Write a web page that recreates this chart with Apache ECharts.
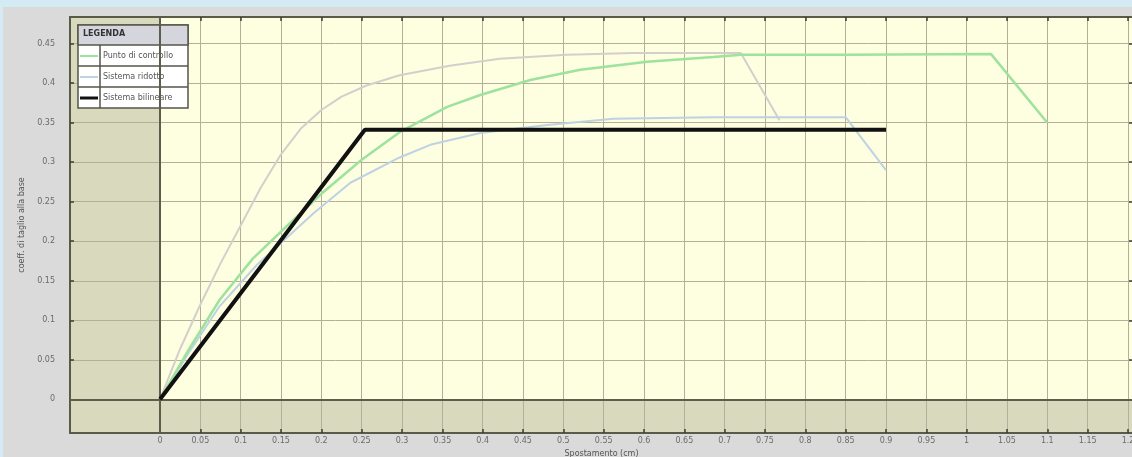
<!DOCTYPE html>
<html>
<head>
<meta charset="utf-8">
<script src="https://cdn.jsdelivr.net/npm/echarts@6/dist/echarts.min.js"></script>
<style>
html, body { margin: 0; padding: 0; background: #d4ebf3; }
#chart { position: absolute; left: 3px; top: 7px; width: 1129px; height: 450px; }
</style>
</head>
<body>
<div id="chart"></div>
<script>
// tick labels
var xTicks = [0, 0.05, 0.1, 0.15, 0.2, 0.25, 0.3, 0.35, 0.4, 0.45, 0.5, 0.55, 0.6,
    0.65, 0.7, 0.75, 0.8, 0.85, 0.9, 0.95, 1, 1.05, 1.1, 1.15, 1.2];
var yTicks = [0, 0.05, 0.1, 0.15, 0.2, 0.25, 0.3, 0.35, 0.4, 0.45];

// axis extents
var xMin = -0.1116, xMax = 1.2062;
var yMin = -0.0426, yMax = 0.4837;

// series values [spostamento, coeff]
var puntoControllo = [[0, 0], [0.035, 0.062], [0.074, 0.126], [0.115, 0.178], [0.157, 0.219],
    [0.2, 0.26], [0.25, 0.303], [0.297, 0.338], [0.356, 0.37], [0.397, 0.385], [0.459, 0.404],
    [0.521, 0.417], [0.604, 0.427], [0.686, 0.433], [0.72, 0.436], [0.85, 0.436],
    [1.03, 0.437], [1.1, 0.35]];
var sistemaRidotto = [[0, 0], [0.035, 0.058], [0.074, 0.118], [0.12, 0.17], [0.19, 0.235],
    [0.236, 0.274], [0.297, 0.306], [0.335, 0.322], [0.397, 0.337], [0.48, 0.347],
    [0.562, 0.355], [0.686, 0.357], [0.85, 0.357], [0.9, 0.29]];
var sistemaBilineare = [[0, 0], [0.254, 0.341], [0.9, 0.341]];
var curvaGrigia = [[0, 0], [0.025, 0.064], [0.05, 0.12], [0.075, 0.172], [0.1, 0.22],
    [0.125, 0.268], [0.15, 0.31], [0.175, 0.343], [0.2, 0.366], [0.225, 0.383],
    [0.256, 0.397], [0.297, 0.41], [0.359, 0.422], [0.421, 0.431], [0.504, 0.436],
    [0.587, 0.438], [0.72, 0.438], [0.768, 0.353]];

var legendNames = ['Punto di controllo', 'Sistema ridotto', 'Sistema bilineare'];

var chartDom = document.getElementById('chart');
var myChart = echarts.init(chartDom);
var option;

var frameLine = { onZero: false, lineStyle: { color: '#5a5a48', width: 2 } };
var tickStyle = { color: '#3e3e34', width: 1.5 };
var gridLine = { show: true, lineStyle: { color: '#b4af96', width: 1 } };
var labelStyle = { fontSize: 8, color: '#6a6a6a', fontFamily: 'DejaVu Sans' };
var thinIcon = 'path://M0,0 L18,0 L18,2 L0,2 Z';
var thickIcon = 'path://M0,0 L18,0 L18,3 L0,3 Z';

option = {
    animation: false,
    backgroundColor: '#dadada',
    grid: { left: 67, top: 10, right: -1, bottom: 24, outerBoundsMode: 'none' },
    legend: {
        data: [
            { name: legendNames[0], icon: thinIcon },
            { name: legendNames[1], icon: thinIcon },
            { name: legendNames[2], icon: thickIcon }
        ],
        orient: 'vertical',
        left: 77,
        top: 45,
        padding: 0,
        itemWidth: 18,
        itemHeight: 14,
        itemGap: 13,
        textStyle: { fontSize: 8, color: '#555', fontFamily: 'DejaVu Sans' }
    },
    graphic: [
        { type: 'rect', z: 3, shape: { x: 75, y: 18, width: 110, height: 83 },
          style: { fill: '#ffffff', stroke: '#55554a', lineWidth: 1.5 } },
        { type: 'rect', z: 3, shape: { x: 75, y: 18, width: 110, height: 20 },
          style: { fill: '#d5d5dd', stroke: '#55554a', lineWidth: 1.5 } },
        { type: 'text', z: 3, left: 80, top: 23,
          style: { text: 'LEGENDA', fontSize: 8, fontWeight: 'bold', fill: '#333', fontFamily: 'DejaVu Sans' } },
        { type: 'line', z: 3, shape: { x1: 75, y1: 59, x2: 185, y2: 59 }, style: { stroke: '#55554a', lineWidth: 1.5 } },
        { type: 'line', z: 3, shape: { x1: 75, y1: 80, x2: 185, y2: 80 }, style: { stroke: '#55554a', lineWidth: 1.5 } },
        { type: 'line', z: 3, shape: { x1: 97, y1: 38, x2: 97, y2: 101 }, style: { stroke: '#55554a', lineWidth: 1.5 } }
    ],
    xAxis: [
        {
            type: 'value', min: xMin, max: xMax, position: 'bottom',
            name: 'Spostamento (cm)', nameLocation: 'middle', nameGap: 14,
            nameTextStyle: { fontSize: 8, color: '#555', fontFamily: 'DejaVu Sans' },
            axisLine: frameLine,
            axisTick: { inside: true, length: 4, customValues: xTicks, lineStyle: tickStyle },
            axisLabel: Object.assign({ customValues: xTicks, margin: 4 }, labelStyle),
            splitLine: gridLine
        },
        {
            type: 'value', min: xMin, max: xMax, position: 'top',
            axisLine: frameLine,
            axisTick: { inside: true, length: 4, customValues: xTicks, lineStyle: tickStyle },
            axisLabel: { show: false },
            splitLine: { show: false }
        }
    ],
    yAxis: [
        {
            type: 'value', min: yMin, max: yMax, position: 'left',
            name: 'coeff. di taglio alla base', nameLocation: 'middle', nameGap: 44,
            nameTextStyle: { fontSize: 8, color: '#555', fontFamily: 'DejaVu Sans' },
            axisLine: frameLine,
            axisTick: { inside: true, length: 4, customValues: yTicks, lineStyle: tickStyle },
            axisLabel: Object.assign({ customValues: yTicks, margin: 15 }, labelStyle),
            splitLine: gridLine
        },
        {
            type: 'value', min: yMin, max: yMax, position: 'right',
            axisLine: frameLine,
            axisTick: { inside: true, length: 4, customValues: yTicks, lineStyle: tickStyle },
            axisLabel: { show: false },
            splitLine: { show: false }
        }
    ],
    series: [
        {
            // plot background: khaki outside, light yellow in the positive quadrant
            name: 'sfondo', type: 'line', data: [], z: -1, silent: true,
            markArea: {
                silent: true, z: -1,
                data: [
                    [{ coord: [xMin, yMin], itemStyle: { color: '#d9d9be' } }, { coord: [xMax, yMax] }],
                    [{ coord: [0, 0], itemStyle: { color: '#fefee1' } }, { coord: [xMax, yMax] }]
                ]
            }
        },
        {
            name: 'assi', type: 'line', data: [], z: 1, silent: true,
            markLine: {
                silent: true, symbol: 'none', label: { show: false },
                lineStyle: { color: '#5d5d4b', width: 2, type: 'solid' },
                data: [{ xAxis: 0 }, { yAxis: 0 }]
            }
        },
        {
            name: 'curva', type: 'line', data: curvaGrigia, symbol: 'none', z: 2,
            lineStyle: { color: '#d5cfcb', width: 2 }, itemStyle: { color: '#d5cfcb' }
        },
        {
            name: 'Sistema ridotto', type: 'line', data: sistemaRidotto, symbol: 'none', z: 3,
            lineStyle: { color: '#bdd2e2', width: 2 }, itemStyle: { color: '#bdd2e2' }
        },
        {
            name: 'Punto di controllo', type: 'line', data: puntoControllo, symbol: 'none', z: 4,
            lineStyle: { color: '#9de29d', width: 2.5 }, itemStyle: { color: '#9de29d' }
        },
        {
            name: 'Sistema bilineare', type: 'line', data: sistemaBilineare, symbol: 'none', z: 5,
            lineStyle: { color: '#111111', width: 4 }, itemStyle: { color: '#111111' }
        }
    ]
};

option && myChart.setOption(option);
</script>
</body>
</html>
